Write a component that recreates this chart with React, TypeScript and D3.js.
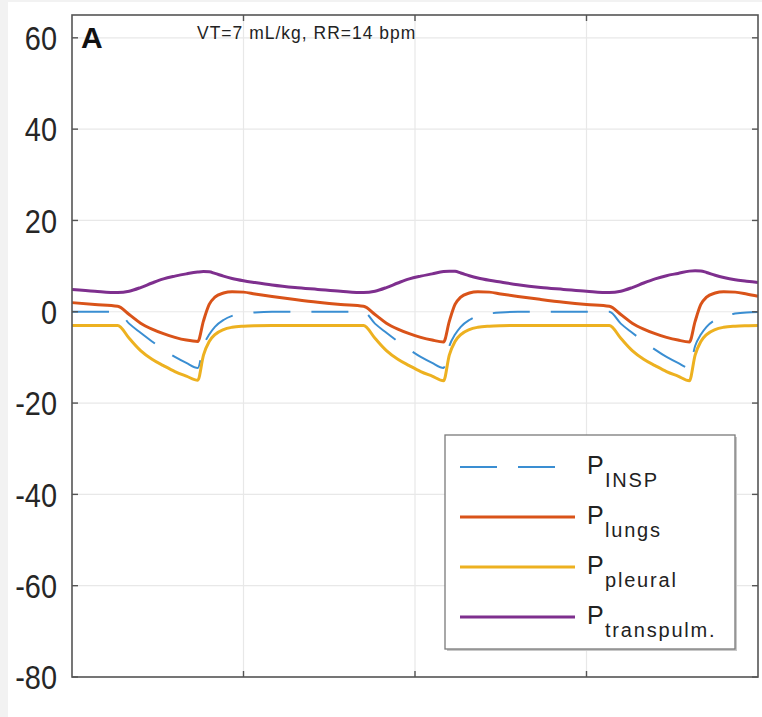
import * as d3 from "d3";
import * as React from "react";

// time axis (s) shared by all traces
const timeS = [
  0, 0.4,
  0.8, 1.0, 1.2, 1.4, 1.6, 1.8, 2.0, 2.2,
  2.3, 2.4, 2.5, 2.65, 2.8, 3.0, 3.2, 3.5, 3.9, 4.3, 4.7,
  5.1, 5.3, 5.5, 5.7, 5.9, 6.1, 6.3, 6.5,
  6.6, 6.7, 6.8, 6.95, 7.1, 7.3, 7.5, 7.8, 8.2, 8.6, 9.0,
  9.4, 9.6, 9.8, 10.0, 10.2, 10.4, 10.6, 10.8,
  10.9, 11.0, 11.1, 11.25, 11.4, 11.6, 11.8, 12.0,
];

const pInsp = [
  0, 0,
  0, -2.6, -4.6, -6.5, -8.3, -9.9, -11.2, -12.3,
  -7.5, -5.0, -3.3, -1.8, -0.9, -0.4, -0.15, 0, 0, 0, 0,
  0, -2.6, -4.6, -6.5, -8.3, -9.9, -11.2, -12.3,
  -7.5, -5.0, -3.3, -1.8, -0.9, -0.4, -0.15, 0, 0, 0, 0,
  0, -2.6, -4.6, -6.5, -8.3, -9.9, -11.2, -12.3,
  -7.5, -5.0, -3.3, -1.8, -0.9, -0.4, -0.15, -0.05,
];

const pLungs = [
  2.0, 1.6,
  1.2, -0.6, -2.5, -3.8, -4.8, -5.6, -6.2, -6.5,
  -2.0, 1.6, 3.2, 4.1, 4.4, 4.3, 3.9, 3.35, 2.7, 2.1, 1.6,
  1.2, -0.6, -2.5, -3.8, -4.8, -5.6, -6.2, -6.6,
  -2.1, 1.6, 3.2, 4.1, 4.4, 4.3, 3.9, 3.35, 2.7, 2.1, 1.6,
  1.2, -0.6, -2.5, -3.8, -4.8, -5.6, -6.2, -6.6,
  -2.1, 1.6, 3.2, 4.1, 4.4, 4.3, 3.9, 3.4,
];

const pPleural = [
  -3, -3,
  -3, -5.8, -8.5, -10.4, -11.8, -13.1, -14.1, -15.0,
  -9.5, -6.5, -5.0, -3.9, -3.4, -3.15, -3.05, -3, -3, -3, -3,
  -3, -5.8, -8.5, -10.4, -11.8, -13.1, -14.1, -15.1,
  -9.5, -6.5, -5.0, -3.9, -3.4, -3.15, -3.05, -3, -3, -3, -3,
  -3, -5.8, -8.5, -10.4, -11.8, -13.1, -14.1, -15.1,
  -9.5, -6.5, -5.0, -3.9, -3.4, -3.15, -3.05, -3.0,
];

const pTranspulm = [
  4.9, 4.5,
  4.2, 4.5, 5.3, 6.3, 7.2, 7.8, 8.3, 8.7,
  8.8, 8.75, 8.4, 7.8, 7.3, 6.8, 6.4, 5.85, 5.3, 4.9, 4.5,
  4.2, 4.5, 5.3, 6.3, 7.2, 7.8, 8.3, 8.8,
  8.9, 8.85, 8.5, 7.9, 7.4, 6.9, 6.5, 5.9, 5.3, 4.9, 4.5,
  4.2, 4.5, 5.3, 6.3, 7.2, 7.9, 8.4, 8.9,
  9.0, 8.95, 8.6, 8.0, 7.5, 7.0, 6.7, 6.4,
];

const yTicks = [-80, -60, -40, -20, 0, 20, 40, 60];
const xTicks = [3, 6, 9];

const series = [
  { name: "INSP", values: pInsp, color: "#3a8ed2", width: 2, dash: "37,21" },
  { name: "lungs", values: pLungs, color: "#d95319", width: 3, dash: null },
  { name: "pleural", values: pPleural, color: "#edb120", width: 3, dash: null },
  { name: "transpulm.", values: pTranspulm, color: "#7e2f8e", width: 3, dash: null },
];

export default function App() {
  const W = 762,
    H = 717;
  const plot = { left: 72, right: 758, top: 15, bottom: 677 };

  const x = d3.scaleLinear().domain([0, 12]).range([plot.left, plot.right]);
  const y = d3.scaleLinear().domain([-80, 65]).range([plot.bottom, plot.top]);

  const line = (vals: number[]) =>
    d3
      .line<number>()
      .x((d, i) => x(timeS[i]))
      .y((d) => y(d))
      .curve(d3.curveMonotoneX)(vals);

  const axisCol = "#555";
  const gridCol = "#e8e8e8";
  const font = "Liberation Sans, Arial, sans-serif";

  // legend geometry
  const lg = { x: 445, y: 435, w: 290, h: 214 };

  return (
    <div>
      <style>{`body{margin:0;}`}</style>
      <svg width={W} height={H} style={{ display: "block" }}>
        <rect x={0} y={0} width={W} height={H} fill="#f2f2f2" />
        <rect x={8} y={2} width={W - 8} height={H - 2} fill="#fff" />

        {/* grid */}
        {yTicks.map((t) => (
          <line
            key={"gy" + t}
            x1={plot.left}
            x2={plot.right}
            y1={y(t)}
            y2={y(t)}
            stroke={gridCol}
            strokeWidth={1.2}
          />
        ))}
        {xTicks.map((t) => (
          <line
            key={"gx" + t}
            x1={x(t)}
            x2={x(t)}
            y1={plot.top}
            y2={plot.bottom}
            stroke={gridCol}
            strokeWidth={1.2}
          />
        ))}

        {/* traces */}
        {series.map((s) => (
          <path
            key={s.name}
            d={line(s.values) || ""}
            fill="none"
            stroke={s.color}
            strokeWidth={s.width}
            strokeDasharray={s.dash || undefined}
            strokeLinejoin="round"
          />
        ))}

        {/* axes box + ticks */}
        <rect
          x={plot.left}
          y={plot.top}
          width={plot.right - plot.left}
          height={plot.bottom - plot.top}
          fill="none"
          stroke={axisCol}
          strokeWidth={1.6}
        />
        {yTicks.map((t) => (
          <g key={"ty" + t}>
            <line x1={plot.left} x2={plot.left + 6} y1={y(t)} y2={y(t)} stroke={axisCol} strokeWidth={1.4} />
            <line x1={plot.right} x2={plot.right - 6} y1={y(t)} y2={y(t)} stroke={axisCol} strokeWidth={1.4} />
            <text
              transform={`translate(57,${y(t)}) scale(0.85,1)`}
              textAnchor="end"
              dy="0.36em"
              fontFamily={font}
              fontSize={34}
              fill="#262626"
            >
              {t}
            </text>
          </g>
        ))}
        {xTicks.map((t) => (
          <g key={"tx" + t}>
            <line x1={x(t)} x2={x(t)} y1={plot.bottom} y2={plot.bottom - 6} stroke={axisCol} strokeWidth={1.4} />
            <line x1={x(t)} x2={x(t)} y1={plot.top} y2={plot.top + 6} stroke={axisCol} strokeWidth={1.4} />
          </g>
        ))}

        {/* panel letter + title */}
        <text x={81} y={48} fontFamily={font} fontWeight="bold" fontSize={30} fill="#111">
          A
        </text>
        <text
          transform="translate(197,39) scale(0.92,1)"
          fontFamily={font}
          fontSize={19}
          letterSpacing={1.1}
          fill="#222"
        >
          VT=7 mL/kg, RR=14 bpm
        </text>

        {/* legend */}
        <rect x={lg.x + 2} y={lg.y + 2} width={lg.w} height={lg.h} fill="#c8c8c8" />
        <rect x={lg.x} y={lg.y} width={lg.w} height={lg.h} fill="#fff" stroke="#7a7a7a" strokeWidth={1.3} />
        {series.map((s, i) => {
          const ly = 467 + i * 50;
          return (
            <g key={"lg" + s.name}>
              <line
                x1={460}
                x2={575}
                y1={ly}
                y2={ly}
                stroke={s.color}
                strokeWidth={s.width}
                strokeDasharray={s.dash || undefined}
              />
              <text x={587} y={ly + 7} fontFamily={font} fontSize={25} fill="#222">
                P
              </text>
              <text x={605} y={ly + 20} fontFamily={font} fontSize={20} letterSpacing={1.8} fill="#222">
                {s.name}
              </text>
            </g>
          );
        })}
      </svg>
    </div>
  );
}
